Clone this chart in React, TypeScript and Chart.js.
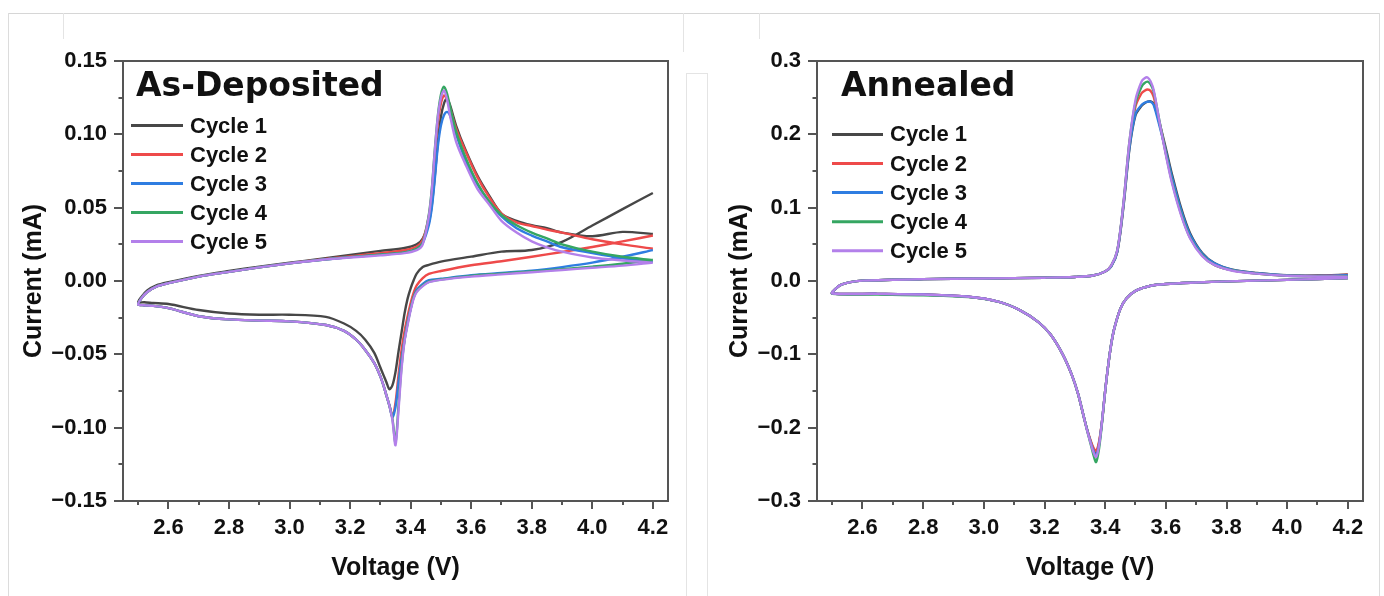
import React, { useEffect, useRef } from "react";
import { Chart, registerables } from "chart.js";

Chart.register(...registerables);

// ---------------- shared data ----------------
const CYCLE_LABELS = ["Cycle 1", "Cycle 2", "Cycle 3", "Cycle 4", "Cycle 5"];
const CYCLE_COLORS = ["#474747", "#ee4a4a", "#2f7de1", "#35a662", "#b380ea"];

const X_RANGE = [2.45, 4.25];
const X_TICKS = [2.6, 2.8, 3.0, 3.2, 3.4, 3.6, 3.8, 4.0, 4.2];
const X_TICK_LABELS = ["2.6", "2.8", "3.0", "3.2", "3.4", "3.6", "3.8", "4.0", "4.2"];
const X_MINOR_TICKS = [2.5, 2.7, 2.9, 3.1, 3.3, 3.5, 3.7, 3.9, 4.1];
const X_TITLE = "Voltage (V)";
const Y_TITLE = "Current (mA)";

// ---------------- As-Deposited ----------------
const AD_TITLE = "As-Deposited";
const AD_Y_RANGE = [-0.15, 0.15];
const AD_Y_TICKS = [-0.15, -0.1, -0.05, 0, 0.05, 0.1, 0.15];
const AD_Y_TICK_LABELS = ["\u22120.15", "\u22120.10", "\u22120.05", "0.00", "0.05", "0.10", "0.15"];
const AD_Y_MINOR_TICKS = [-0.125, -0.075, -0.025, 0.025, 0.075, 0.125];

// cathodic sweep, 4.2 V -> 2.5 V
const AD_V_DOWN = [4.2, 4.1, 4.0, 3.9, 3.8, 3.7, 3.6, 3.5, 3.46, 3.44, 3.42, 3.41, 3.40, 3.39, 3.38, 3.37, 3.36, 3.35, 3.34, 3.33, 3.32, 3.31, 3.30, 3.28, 3.25, 3.22, 3.18, 3.12, 3.0, 2.9, 2.8, 2.7, 2.6, 2.55, 2.52, 2.5];
const AD_C1_DOWN = [0.060, 0.049, 0.0378, 0.0267, 0.0211, 0.020, 0.0166, 0.0132, 0.011, 0.0095, 0.005, 0.0005, -0.005, -0.012, -0.022, -0.035, -0.048, -0.062, -0.071, -0.0738, -0.069, -0.064, -0.059, -0.049, -0.040, -0.034, -0.029, -0.0245, -0.023, -0.023, -0.0222, -0.0198, -0.0157, -0.015, -0.0145, -0.0145];
const AD_C2_DOWN = [0.031, 0.027, 0.0232, 0.0198, 0.0165, 0.0135, 0.0107, 0.0068, 0.0048, 0.002, -0.003, -0.008, -0.015, -0.024, -0.034, -0.047, -0.064, -0.083, -0.092, -0.085, -0.078, -0.071, -0.065, -0.056, -0.047, -0.040, -0.034, -0.030, -0.0275, -0.027, -0.0262, -0.024, -0.0185, -0.017, -0.0165, -0.016];
const AD_C3_DOWN = [0.021, 0.0165, 0.0125, 0.0095, 0.007, 0.0055, 0.004, 0.0015, 0.0005, -0.002, -0.006, -0.011, -0.019, -0.028, -0.040, -0.053, -0.069, -0.086, -0.093, -0.085, -0.078, -0.071, -0.065, -0.056, -0.047, -0.040, -0.034, -0.030, -0.0275, -0.027, -0.0262, -0.024, -0.0185, -0.017, -0.0165, -0.016];
const AD_C4_DOWN = [0.0143, 0.0118, 0.0098, 0.008, 0.0065, 0.005, 0.0035, 0.001, -0.0005, -0.003, -0.007, -0.011, -0.019, -0.029, -0.040, -0.058, -0.085, -0.110, -0.094, -0.085, -0.078, -0.071, -0.065, -0.056, -0.047, -0.040, -0.034, -0.030, -0.0275, -0.027, -0.0262, -0.024, -0.0185, -0.017, -0.0165, -0.016];
const AD_C5_DOWN = [0.0125, 0.0105, 0.009, 0.0075, 0.006, 0.0045, 0.003, 0.0008, -0.0008, -0.0035, -0.0075, -0.012, -0.020, -0.030, -0.041, -0.060, -0.088, -0.112, -0.095, -0.085, -0.078, -0.071, -0.065, -0.056, -0.047, -0.040, -0.034, -0.030, -0.0275, -0.027, -0.0262, -0.024, -0.0185, -0.017, -0.0165, -0.016];

// anodic sweep, 2.5 V -> 4.2 V
const AD_V_UP = [2.51, 2.53, 2.56, 2.6, 2.7, 2.8, 2.9, 3.0, 3.1, 3.2, 3.3, 3.38, 3.42, 3.44, 3.46, 3.47, 3.48, 3.49, 3.50, 3.51, 3.52, 3.53, 3.55, 3.58, 3.62, 3.66, 3.70, 3.75, 3.8, 3.85, 3.9, 4.0, 4.1, 4.2];
const AD_C1_UP = [-0.011, -0.0065, -0.003, -0.0008, 0.0035, 0.0068, 0.0098, 0.0125, 0.015, 0.0178, 0.0205, 0.0225, 0.025, 0.029, 0.040, 0.052, 0.072, 0.095, 0.112, 0.121, 0.1245, 0.120, 0.106, 0.090, 0.072, 0.058, 0.046, 0.041, 0.038, 0.036, 0.033, 0.0305, 0.0335, 0.032];
const AD_C2_UP = [-0.012, -0.0075, -0.0038, -0.0015, 0.003, 0.0062, 0.0093, 0.012, 0.0145, 0.0168, 0.019, 0.021, 0.0235, 0.028, 0.044, 0.060, 0.086, 0.108, 0.121, 0.1265, 0.124, 0.118, 0.104, 0.089, 0.071, 0.057, 0.046, 0.040, 0.0375, 0.035, 0.033, 0.0285, 0.025, 0.022];
const AD_C3_UP = [-0.012, -0.0075, -0.0038, -0.0015, 0.003, 0.0062, 0.0093, 0.012, 0.0143, 0.0163, 0.018, 0.0195, 0.022, 0.026, 0.038, 0.050, 0.070, 0.092, 0.106, 0.113, 0.1153, 0.113, 0.100, 0.083, 0.066, 0.054, 0.044, 0.036, 0.031, 0.027, 0.023, 0.019, 0.0155, 0.013];
const AD_C4_UP = [-0.012, -0.0075, -0.0038, -0.0015, 0.003, 0.0062, 0.0093, 0.012, 0.0143, 0.0163, 0.018, 0.0195, 0.022, 0.026, 0.045, 0.063, 0.090, 0.113, 0.127, 0.1325, 0.128, 0.119, 0.102, 0.085, 0.067, 0.054, 0.045, 0.038, 0.033, 0.029, 0.025, 0.020, 0.0165, 0.0143];
const AD_C5_UP = [-0.012, -0.0075, -0.0038, -0.0015, 0.003, 0.0062, 0.0093, 0.012, 0.0143, 0.016, 0.0175, 0.019, 0.021, 0.025, 0.044, 0.062, 0.089, 0.112, 0.125, 0.130, 0.124, 0.113, 0.095, 0.080, 0.063, 0.052, 0.041, 0.033, 0.027, 0.023, 0.020, 0.016, 0.014, 0.0125];

// ---------------- Annealed ----------------
const AN_TITLE = "Annealed";
const AN_Y_RANGE = [-0.3, 0.3];
const AN_Y_TICKS = [-0.3, -0.2, -0.1, 0, 0.1, 0.2, 0.3];
const AN_Y_TICK_LABELS = ["\u22120.3", "\u22120.2", "\u22120.1", "0.0", "0.1", "0.2", "0.3"];
const AN_Y_MINOR_TICKS = [-0.25, -0.15, -0.05, 0.05, 0.15, 0.25];

const AN_V_DOWN = [4.2, 4.0, 3.8, 3.7, 3.6, 3.55, 3.5, 3.47, 3.45, 3.43, 3.42, 3.41, 3.40, 3.39, 3.38, 3.37, 3.36, 3.35, 3.34, 3.33, 3.31, 3.29, 3.26, 3.22, 3.18, 3.12, 3.05, 2.95, 2.8, 2.65, 2.5];
const AN_C1_DOWN = [0.004, 0.0015, -0.0005, -0.002, -0.004, -0.0065, -0.0135, -0.024, -0.038, -0.065, -0.086, -0.115, -0.150, -0.190, -0.221, -0.235, -0.228, -0.216, -0.202, -0.186, -0.153, -0.128, -0.100, -0.073, -0.056, -0.040, -0.0285, -0.0215, -0.0185, -0.0175, -0.017];
const AN_C2_DOWN = [0.004, 0.0015, -0.0005, -0.002, -0.004, -0.0065, -0.0135, -0.024, -0.038, -0.065, -0.086, -0.115, -0.150, -0.190, -0.219, -0.232, -0.226, -0.215, -0.202, -0.186, -0.153, -0.128, -0.100, -0.073, -0.056, -0.040, -0.0285, -0.0215, -0.0185, -0.0175, -0.017];
const AN_C3_DOWN = [0.004, 0.0015, -0.0005, -0.002, -0.004, -0.0065, -0.0135, -0.024, -0.038, -0.065, -0.086, -0.115, -0.150, -0.190, -0.223, -0.238, -0.230, -0.217, -0.202, -0.186, -0.153, -0.128, -0.100, -0.073, -0.056, -0.040, -0.0285, -0.0215, -0.0185, -0.0175, -0.017];
const AN_C4_DOWN = [0.004, 0.0015, -0.0005, -0.002, -0.004, -0.0065, -0.0135, -0.024, -0.038, -0.065, -0.086, -0.115, -0.150, -0.192, -0.228, -0.247, -0.235, -0.219, -0.203, -0.186, -0.153, -0.128, -0.100, -0.073, -0.056, -0.040, -0.0285, -0.022, -0.0195, -0.0185, -0.0175];
const AN_C5_DOWN = [0.004, 0.0015, -0.0005, -0.002, -0.004, -0.0065, -0.0135, -0.024, -0.038, -0.065, -0.086, -0.115, -0.150, -0.190, -0.224, -0.240, -0.232, -0.218, -0.203, -0.186, -0.153, -0.128, -0.100, -0.073, -0.056, -0.040, -0.0285, -0.0215, -0.0185, -0.0175, -0.017];

const AN_V_UP = [2.51, 2.53, 2.56, 2.6, 2.8, 3.0, 3.2, 3.3, 3.36, 3.40, 3.42, 3.44, 3.46, 3.48, 3.50, 3.52, 3.53, 3.54, 3.55, 3.56, 3.58, 3.60, 3.62, 3.65, 3.68, 3.72, 3.76, 3.82, 3.9, 4.0, 4.1, 4.2];
const AN_C1_UP = [-0.011, -0.005, -0.0015, 0.0005, 0.0025, 0.0035, 0.0045, 0.0055, 0.0075, 0.013, 0.020, 0.040, 0.100, 0.180, 0.226, 0.239, 0.2425, 0.2445, 0.245, 0.242, 0.214, 0.181, 0.146, 0.100, 0.065, 0.038, 0.0245, 0.0155, 0.011, 0.0078, 0.0075, 0.0088];
const AN_C2_UP = [-0.011, -0.005, -0.0015, 0.0005, 0.0025, 0.0035, 0.0045, 0.0055, 0.0075, 0.013, 0.021, 0.041, 0.103, 0.187, 0.238, 0.256, 0.2595, 0.2612, 0.259, 0.251, 0.214, 0.175, 0.138, 0.093, 0.060, 0.035, 0.022, 0.0145, 0.010, 0.0073, 0.007, 0.0085];
const AN_C3_UP = [-0.011, -0.005, -0.0015, 0.0005, 0.0025, 0.0035, 0.0045, 0.0055, 0.0075, 0.013, 0.020, 0.040, 0.102, 0.182, 0.228, 0.240, 0.243, 0.2445, 0.2445, 0.240, 0.210, 0.177, 0.142, 0.097, 0.063, 0.037, 0.024, 0.015, 0.0105, 0.0075, 0.007, 0.0078];
const AN_C4_UP = [-0.011, -0.005, -0.0015, 0.0005, 0.0025, 0.0035, 0.0045, 0.0055, 0.0075, 0.013, 0.021, 0.042, 0.105, 0.190, 0.243, 0.265, 0.270, 0.2718, 0.268, 0.258, 0.216, 0.174, 0.136, 0.092, 0.059, 0.035, 0.022, 0.0145, 0.010, 0.0072, 0.0065, 0.0065];
const AN_C5_UP = [-0.011, -0.005, -0.0015, 0.0005, 0.0025, 0.0035, 0.0045, 0.0055, 0.0075, 0.013, 0.021, 0.042, 0.105, 0.190, 0.247, 0.272, 0.2765, 0.2775, 0.272, 0.260, 0.215, 0.172, 0.134, 0.090, 0.058, 0.034, 0.022, 0.014, 0.010, 0.0072, 0.0062, 0.006];

// ---------------- styling ----------------
const FONT = '"Liberation Sans", Arial, sans-serif';
const TITLE_FONT = '"DejaVu Sans", sans-serif';
const TEXT_COLOR = "#111111";
const AXIS_COLOR = "#555555";

type PanelProps = {
  title: string;
  yRange: number[];
  yTicks: number[];
  yTickLabels: string[];
  yMinor: number[];
  vDown: number[];
  vUp: number[];
  down: number[][];
  up: number[][];
  box: {
    left: number;
    width: number;
    plotLeft: number;
    plotRight: number;
    plotTop: number;
    plotBottom: number;
    yTitlePad: number;
    titleX: number;
    titleY: number;
    legLineX0: number;
    legLineX1: number;
    legTextX: number;
    legY0: number;
    legStep: number;
  };
};

const H = 596;

function Panel(props: PanelProps) {
  const ref = useRef<HTMLCanvasElement | null>(null);

  useEffect(() => {
    const canvas = ref.current;
    if (!canvas) return;
    const b = props.box;
    const n = props.down.length;

    const datasets = props.down.map((dn, c) => {
      const pts: { x: number; y: number }[] = [];
      for (let k = 0; k < props.vDown.length; k++) pts.push({ x: props.vDown[k], y: dn[k] });
      const upv = props.up[c];
      for (let k = 0; k < props.vUp.length; k++) pts.push({ x: props.vUp[k], y: upv[k] });
      return {
        label: CYCLE_LABELS[c],
        data: pts,
        showLine: true,
        order: n - 1 - c,
        borderColor: CYCLE_COLORS[c],
        backgroundColor: CYCLE_COLORS[c],
        borderWidth: 2.4,
        pointRadius: 0,
        pointHoverRadius: 0,
        tension: 0.3,
        fill: false,
      };
    });

    const decor = {
      id: "panelDecor",
      afterDatasetsDraw(chart: any) {
        const { ctx, chartArea: a, scales } = chart;
        ctx.save();
        ctx.strokeStyle = AXIS_COLOR;
        ctx.lineWidth = 2;
        ctx.strokeRect(a.left, a.top, a.right - a.left, a.bottom - a.top);
        ctx.beginPath();
        for (const v of X_TICKS) {
          const x = Math.round(scales.x.getPixelForValue(v));
          ctx.moveTo(x, a.bottom);
          ctx.lineTo(x, a.bottom + 8);
        }
        for (const v of X_MINOR_TICKS) {
          const x = Math.round(scales.x.getPixelForValue(v));
          ctx.moveTo(x, a.bottom);
          ctx.lineTo(x, a.bottom + 4);
        }
        for (const v of props.yTicks) {
          const y = Math.round(scales.y.getPixelForValue(v));
          ctx.moveTo(a.left - 9, y);
          ctx.lineTo(a.left, y);
        }
        for (const v of props.yMinor) {
          const y = Math.round(scales.y.getPixelForValue(v));
          ctx.moveTo(a.left - 4.5, y);
          ctx.lineTo(a.left, y);
        }
        ctx.stroke();
        ctx.restore();
      },
      afterDraw(chart: any) {
        const ctx = chart.ctx;
        ctx.save();
        ctx.fillStyle = TEXT_COLOR;
        ctx.font = `bold 33px ${TITLE_FONT}`;
        ctx.textAlign = "left";
        ctx.textBaseline = "alphabetic";
        ctx.fillText(props.title, b.titleX, b.titleY);
        ctx.font = `bold 22px ${FONT}`;
        ctx.textBaseline = "middle";
        chart.data.datasets.forEach((ds: any, i: number) => {
          const y = b.legY0 + i * b.legStep;
          ctx.strokeStyle = ds.borderColor;
          ctx.lineWidth = 3;
          ctx.beginPath();
          ctx.moveTo(b.legLineX0, y);
          ctx.lineTo(b.legLineX1, y);
          ctx.stroke();
          ctx.fillStyle = TEXT_COLOR;
          ctx.fillText(ds.label, b.legTextX, y + 1);
        });
        ctx.restore();
      },
    };

    const chart = new Chart(canvas, {
      type: "scatter",
      data: { datasets: datasets as any },
      options: {
        animation: false,
        responsive: false,
        devicePixelRatio: 1,
        layout: {
          padding: { left: 0, top: b.plotTop, right: b.width - b.plotRight, bottom: 0 },
        },
        plugins: {
          legend: { display: false },
          tooltip: { enabled: false },
          title: { display: false },
        },
        scales: {
          x: {
            type: "linear",
            min: X_RANGE[0],
            max: X_RANGE[1],
            grid: { display: false, drawTicks: false },
            border: { display: false },
            afterBuildTicks: (s: any) => {
              s.ticks = X_TICKS.map((v) => ({ value: v }));
            },
            afterFit: (s: any) => {
              s.height = H - b.plotBottom;
            },
            ticks: {
              padding: 14,
              color: TEXT_COLOR,
              autoSkip: false,
              maxRotation: 0,
              font: { family: FONT, size: 22, weight: "bold" },
              callback: (_v: any, i: number) => X_TICK_LABELS[i],
            },
            title: {
              display: true,
              text: X_TITLE,
              color: TEXT_COLOR,
              font: { family: FONT, size: 25, weight: "bold" },
              padding: { top: 0, bottom: 13 },
            },
          },
          y: {
            type: "linear",
            min: props.yRange[0],
            max: props.yRange[1],
            grid: { display: false, drawTicks: false },
            border: { display: false },
            afterBuildTicks: (s: any) => {
              s.ticks = props.yTicks.map((v) => ({ value: v }));
            },
            afterFit: (s: any) => {
              s.width = b.plotLeft;
            },
            ticks: {
              padding: 16,
              color: TEXT_COLOR,
              autoSkip: false,
              font: { family: FONT, size: 22, weight: "bold" },
              callback: (_v: any, i: number) => props.yTickLabels[i],
            },
            title: {
              display: true,
              text: Y_TITLE,
              color: TEXT_COLOR,
              font: { family: FONT, size: 25, weight: "bold" },
              padding: { top: b.yTitlePad, bottom: 0 },
            },
          },
        },
      },
      plugins: [decor],
    } as any);

    return () => chart.destroy();
  }, []);

  return (
    <canvas
      ref={ref}
      width={props.box.width}
      height={H}
      style={{ position: "absolute", left: props.box.left, top: 0, width: props.box.width, height: H }}
    />
  );
}

const line = (left: number, top: number, width: number, height: number, color: string) => (
  <div style={{ position: "absolute", left, top, width, height, background: color }} />
);

export default function App() {
  return (
    <div style={{ position: "fixed", left: 0, top: 0, width: 1384, height: H, background: "#ffffff", overflow: "hidden" }}>
      {line(8, 13, 1372, 1, "#d6d6d6")}
      {line(8, 13, 1, 583, "#dcdcdc")}
      {line(1379, 13, 1, 583, "#dcdcdc")}
      {line(63, 13, 1, 26, "#e4e4e4")}
      {line(683, 13, 1, 39, "#e4e4e4")}
      {line(759, 13, 1, 26, "#e4e4e4")}
      {line(686, 73, 21, 1, "#e4e4e4")}
      {line(686, 73, 1, 523, "#e4e4e4")}
      {line(707, 73, 1, 523, "#e4e4e4")}
      <Panel
        title={AD_TITLE}
        yRange={AD_Y_RANGE}
        yTicks={AD_Y_TICKS}
        yTickLabels={AD_Y_TICK_LABELS}
        yMinor={AD_Y_MINOR_TICKS}
        vDown={AD_V_DOWN}
        vUp={AD_V_UP}
        down={[AD_C1_DOWN, AD_C2_DOWN, AD_C3_DOWN, AD_C4_DOWN, AD_C5_DOWN]}
        up={[AD_C1_UP, AD_C2_UP, AD_C3_UP, AD_C4_UP, AD_C5_UP]}
        box={{
          left: 0,
          width: 692,
          plotLeft: 123,
          plotRight: 668,
          plotTop: 61,
          plotBottom: 501,
          yTitlePad: 19,
          titleX: 136,
          titleY: 96,
          legLineX0: 131,
          legLineX1: 183,
          legTextX: 190,
          legY0: 125.5,
          legStep: 29,
        }}
      />
      <Panel
        title={AN_TITLE}
        yRange={AN_Y_RANGE}
        yTicks={AN_Y_TICKS}
        yTickLabels={AN_Y_TICK_LABELS}
        yMinor={AN_Y_MINOR_TICKS}
        vDown={AN_V_DOWN}
        vUp={AN_V_UP}
        down={[AN_C1_DOWN, AN_C2_DOWN, AN_C3_DOWN, AN_C4_DOWN, AN_C5_DOWN]}
        up={[AN_C1_UP, AN_C2_UP, AN_C3_UP, AN_C4_UP, AN_C5_UP]}
        box={{
          left: 692,
          width: 692,
          plotLeft: 125,
          plotRight: 671,
          plotTop: 61,
          plotBottom: 501,
          yTitlePad: 33,
          titleX: 149,
          titleY: 96,
          legLineX0: 140,
          legLineX1: 191,
          legTextX: 198,
          legY0: 134.4,
          legStep: 29.1,
        }}
      />
    </div>
  );
}
